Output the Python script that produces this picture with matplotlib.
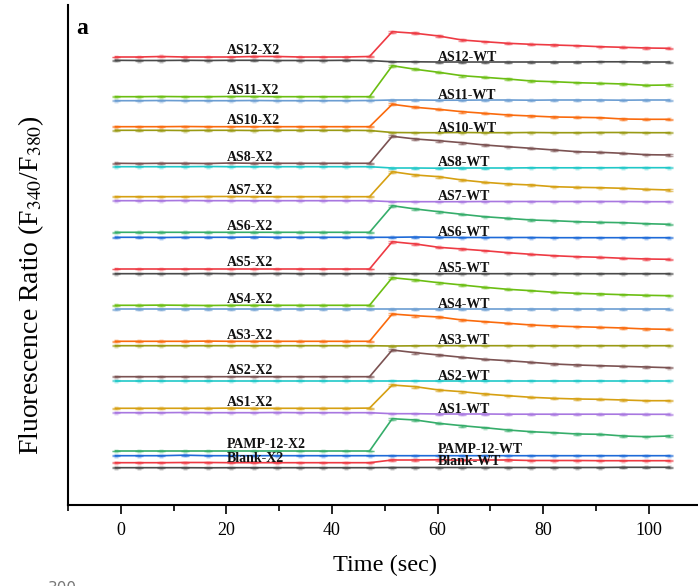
import matplotlib
matplotlib.use("Agg")
import matplotlib.pyplot as plt
from matplotlib.ticker import FixedLocator

plt.rcParams['font.family'] = ['Liberation Serif', 'DejaVu Serif']
plt.rcParams['mathtext.fontset'] = 'stix'

# time points (sec)
time = [-1.0, 3.4, 7.7, 12.1, 16.5, 20.9, 25.2, 29.6, 34.0, 38.3, 42.7, 47.1,
        51.4, 55.8, 60.2, 64.6, 68.9, 73.3, 77.7, 82.0, 86.4, 90.8, 95.1, 99.5, 103.9]

# fluorescence ratio traces (stacked, arbitrary offset units)
as12_x2 = [4.480, 4.480, 4.485, 4.480, 4.480, 4.480, 4.485, 4.485, 4.480, 4.480, 4.480, 4.485,
           4.733, 4.717, 4.690, 4.650, 4.633, 4.617, 4.607, 4.600, 4.593, 4.583, 4.577, 4.570, 4.567]
as12_wt = [4.447, 4.445, 4.445, 4.447, 4.445, 4.447, 4.447, 4.445, 4.445, 4.445, 4.447, 4.445,
           4.432, 4.432, 4.430, 4.430, 4.430, 4.430, 4.430, 4.430, 4.430, 4.432, 4.432, 4.430, 4.430]
as11_x2 = [4.083, 4.083, 4.085, 4.083, 4.083, 4.085, 4.085, 4.083, 4.083, 4.083, 4.083, 4.083,
           4.393, 4.357, 4.327, 4.293, 4.277, 4.260, 4.240, 4.233, 4.223, 4.217, 4.210, 4.197, 4.200]
as11_wt = [4.043, 4.043, 4.045, 4.043, 4.043, 4.043, 4.045, 4.043, 4.043, 4.043, 4.043, 4.045,
           4.050, 4.050, 4.048, 4.048, 4.050, 4.050, 4.048, 4.050, 4.050, 4.050, 4.048, 4.050, 4.050]
as10_x2 = [3.783, 3.783, 3.783, 3.785, 3.783, 3.783, 3.783, 3.783, 3.783, 3.783, 3.783, 3.783,
           4.007, 3.977, 3.957, 3.933, 3.917, 3.900, 3.890, 3.880, 3.877, 3.873, 3.860, 3.857, 3.857]
as10_wt = [3.747, 3.747, 3.747, 3.745, 3.747, 3.747, 3.745, 3.747, 3.747, 3.747, 3.747, 3.745,
           3.725, 3.723, 3.723, 3.725, 3.723, 3.723, 3.725, 3.723, 3.723, 3.725, 3.725, 3.723, 3.723]
as8_x2 = [3.417, 3.415, 3.417, 3.417, 3.415, 3.420, 3.417, 3.417, 3.417, 3.417, 3.417, 3.417,
          3.687, 3.660, 3.643, 3.623, 3.600, 3.583, 3.567, 3.550, 3.533, 3.527, 3.517, 3.503, 3.500]
as8_wt = [3.383, 3.383, 3.383, 3.383, 3.385, 3.383, 3.383, 3.383, 3.383, 3.383, 3.383, 3.383,
          3.370, 3.370, 3.368, 3.370, 3.370, 3.370, 3.372, 3.372, 3.372, 3.372, 3.373, 3.373, 3.373]
as7_x2 = [3.083, 3.083, 3.083, 3.083, 3.085, 3.085, 3.083, 3.083, 3.083, 3.083, 3.083, 3.083,
          3.333, 3.300, 3.283, 3.250, 3.227, 3.210, 3.200, 3.183, 3.177, 3.173, 3.167, 3.157, 3.150]
as7_wt = [3.043, 3.043, 3.043, 3.045, 3.043, 3.043, 3.043, 3.043, 3.043, 3.043, 3.043, 3.043,
          3.033, 3.033, 3.033, 3.033, 3.035, 3.035, 3.035, 3.035, 3.035, 3.035, 3.035, 3.033, 3.033]
as6_x2 = [2.727, 2.727, 2.727, 2.727, 2.727, 2.727, 2.727, 2.727, 2.727, 2.727, 2.727, 2.727,
          2.993, 2.960, 2.933, 2.907, 2.883, 2.867, 2.850, 2.843, 2.833, 2.827, 2.823, 2.813, 2.807]
as6_wt = [2.677, 2.677, 2.675, 2.677, 2.677, 2.677, 2.679, 2.677, 2.677, 2.677, 2.677, 2.677,
          2.677, 2.680, 2.677, 2.675, 2.675, 2.675, 2.675, 2.673, 2.673, 2.673, 2.673, 2.673, 2.673]
as5_x2 = [2.360, 2.360, 2.360, 2.360, 2.360, 2.360, 2.360, 2.360, 2.360, 2.360, 2.360, 2.360,
          2.633, 2.610, 2.577, 2.560, 2.543, 2.523, 2.507, 2.493, 2.483, 2.477, 2.467, 2.460, 2.457]
as5_wt = [2.313, 2.313, 2.313, 2.313, 2.315, 2.313, 2.313, 2.315, 2.313, 2.313, 2.313, 2.313,
          2.313, 2.313, 2.313, 2.313, 2.313, 2.313, 2.313, 2.313, 2.313, 2.313, 2.313, 2.313, 2.313]
as4_x2 = [1.997, 1.997, 1.999, 1.997, 1.995, 1.997, 1.997, 1.997, 1.997, 1.997, 1.997, 1.997,
          2.273, 2.250, 2.223, 2.200, 2.177, 2.157, 2.143, 2.127, 2.117, 2.110, 2.103, 2.097, 2.093]
as4_wt = [1.957, 1.957, 1.957, 1.957, 1.957, 1.957, 1.957, 1.957, 1.957, 1.957, 1.957, 1.957,
          1.957, 1.957, 1.957, 1.957, 1.957, 1.957, 1.957, 1.957, 1.957, 1.957, 1.957, 1.957, 1.957]
as3_x2 = [1.637, 1.637, 1.637, 1.637, 1.639, 1.637, 1.637, 1.637, 1.637, 1.637, 1.637, 1.637,
          1.910, 1.893, 1.880, 1.850, 1.833, 1.817, 1.800, 1.790, 1.783, 1.777, 1.770, 1.760, 1.757]
as3_wt = [1.593, 1.593, 1.593, 1.593, 1.593, 1.593, 1.593, 1.593, 1.593, 1.593, 1.593, 1.593,
          1.590, 1.592, 1.593, 1.593, 1.593, 1.593, 1.593, 1.593, 1.593, 1.593, 1.593, 1.593, 1.593]
as2_x2 = [1.283, 1.283, 1.283, 1.283, 1.283, 1.283, 1.283, 1.283, 1.283, 1.283, 1.283, 1.283,
          1.550, 1.523, 1.500, 1.477, 1.457, 1.443, 1.427, 1.410, 1.400, 1.393, 1.387, 1.380, 1.373]
as2_wt = [1.243, 1.243, 1.243, 1.243, 1.243, 1.243, 1.243, 1.243, 1.243, 1.243, 1.243, 1.243,
          1.243, 1.243, 1.243, 1.243, 1.243, 1.243, 1.243, 1.243, 1.243, 1.243, 1.243, 1.243, 1.243]
as1_x2 = [0.967, 0.967, 0.967, 0.967, 0.967, 0.969, 0.967, 0.967, 0.967, 0.967, 0.967, 0.969,
          1.200, 1.183, 1.150, 1.133, 1.110, 1.093, 1.077, 1.067, 1.060, 1.057, 1.050, 1.043, 1.043]
as1_wt = [0.923, 0.923, 0.923, 0.925, 0.923, 0.923, 0.923, 0.925, 0.923, 0.923, 0.923, 0.923,
          0.913, 0.913, 0.910, 0.910, 0.910, 0.908, 0.908, 0.908, 0.908, 0.908, 0.908, 0.907, 0.907]
pamp_x2 = [0.540, 0.540, 0.540, 0.540, 0.540, 0.540, 0.540, 0.540, 0.540, 0.540, 0.540, 0.540,
           0.863, 0.850, 0.817, 0.793, 0.773, 0.750, 0.733, 0.723, 0.710, 0.707, 0.690, 0.683, 0.690]
pamp_wt = [0.493, 0.493, 0.493, 0.498, 0.493, 0.493, 0.493, 0.493, 0.493, 0.493, 0.493, 0.493,
           0.493, 0.493, 0.493, 0.493, 0.493, 0.493, 0.493, 0.493, 0.493, 0.493, 0.493, 0.493, 0.493]
blank_x2 = [0.423, 0.423, 0.423, 0.425, 0.425, 0.423, 0.423, 0.423, 0.423, 0.423, 0.423, 0.423,
            0.450, 0.450, 0.452, 0.448, 0.450, 0.450, 0.445, 0.445, 0.445, 0.443, 0.443, 0.443, 0.443]
blank_wt = [0.373, 0.373, 0.373, 0.373, 0.372, 0.373, 0.373, 0.373, 0.373, 0.373, 0.373, 0.373,
            0.375, 0.375, 0.375, 0.375, 0.375, 0.375, 0.375, 0.375, 0.375, 0.375, 0.377, 0.377, 0.377]

# standard errors
err_x2 = [0.004, 0.004, 0.004, 0.004, 0.004, 0.004, 0.004, 0.004, 0.004, 0.004, 0.004, 0.004,
          0.010, 0.009, 0.008, 0.008, 0.007, 0.007, 0.006, 0.006, 0.006, 0.006, 0.006, 0.006, 0.006]
err_wt = [0.004, 0.004, 0.004, 0.004, 0.004, 0.004, 0.004, 0.004, 0.004, 0.004, 0.004, 0.004,
          0.005, 0.005, 0.005, 0.005, 0.005, 0.005, 0.005, 0.005, 0.005, 0.005, 0.005, 0.005, 0.005]

groups = ['AS12', 'AS11', 'AS10', 'AS8', 'AS7', 'AS6', 'AS5', 'AS4', 'AS3', 'AS2', 'AS1',
          'PAMP-12', 'Blank']
x2_series = [as12_x2, as11_x2, as10_x2, as8_x2, as7_x2, as6_x2, as5_x2, as4_x2, as3_x2,
             as2_x2, as1_x2, pamp_x2, blank_x2]
wt_series = [as12_wt, as11_wt, as10_wt, as8_wt, as7_wt, as6_wt, as5_wt, as4_wt, as3_wt,
             as2_wt, as1_wt, pamp_wt, blank_wt]
x2_colors = ['#EE3A43', '#6BBE12', '#FA6A0C', '#7B5252', '#D6A012', '#35AD6A', '#EE3A43',
             '#6BBE12', '#FA6A0C', '#7B5252', '#D6A012', '#35AD6A', '#EE3A43']
wt_colors = ['#4A4A4A', '#6B9DD2', '#999A14', '#20C8C8', '#A877E0', '#1E6AD8', '#4A4A4A',
             '#6B9DD2', '#999A14', '#20C8C8', '#A877E0', '#1E6AD8', '#4A4A4A']
x2_label_dy = [0.027] * 11 + [0.030, 0.010]
wt_label_dy = [0.012] * 11 + [0.027, 0.027]

W, H = 698, 586
fig = plt.figure(figsize=(W / 100, H / 100), dpi=100)
ax = fig.add_axes([68 / W, 81 / H, (W - 68) / W, 500 / H])

for name, xs, ws, cx, cw, dx, dw in zip(groups, x2_series, wt_series, x2_colors, wt_colors,
                                         x2_label_dy, wt_label_dy):
    for ys, c, err in ((ws, cw, err_wt), (xs, cx, err_x2)):
        ax.errorbar(time, ys, yerr=err, color=c, lw=1.2, elinewidth=1.0, capsize=3,
                    capthick=1.0, ecolor=matplotlib.colors.to_rgba(c, 0.55))
        ax.plot(time, ys, 's', ms=3.0, color=c, alpha=0.3, mec='none')
    ax.text(20, xs[0] + dx, f'{name}-X2', fontsize=10, fontweight='bold',
            ha='left', va='baseline', color='#111111')
    ax.text(60, ws[-1] + dw, f'{name}-WT', fontsize=10, fontweight='bold',
            ha='left', va='baseline', color='#111111')

ax.set_xlim(-10, 109.3)
ax.set_ylim(0, 5.0)
for s in ('top', 'right'):
    ax.spines[s].set_visible(False)
for s in ('left', 'bottom'):
    ax.spines[s].set_linewidth(1.5)
ax.set_yticks([])
ax.xaxis.set_major_locator(FixedLocator([0, 20, 40, 60, 80, 100]))
ax.xaxis.set_minor_locator(FixedLocator([-10, 10, 30, 50, 70, 90]))
ax.tick_params(axis='x', which='major', length=6.5, width=1.2, labelsize=13, pad=6)
ax.tick_params(axis='x', which='minor', length=4, width=1.2)

fig.text(385 / W, 1 - 565 / H, 'Time (sec)', fontsize=17.5, ha='center', va='center')
fig.text(31 / W, 1 - 285 / H, r'Fluorescence Ratio (F$_{340}$/F$_{380}$)', fontsize=20,
         rotation=90, ha='center', va='center')
fig.text(76 / W, 1 - 28 / H, 'a', fontsize=17, fontweight='bold', ha='left', va='center')
fig.text(48 / W, 1 - 581 / H, '300', fontsize=11, color='#777777', ha='left', va='top',
         family='DejaVu Sans')

fig.savefig('out.png', dpi=100)
